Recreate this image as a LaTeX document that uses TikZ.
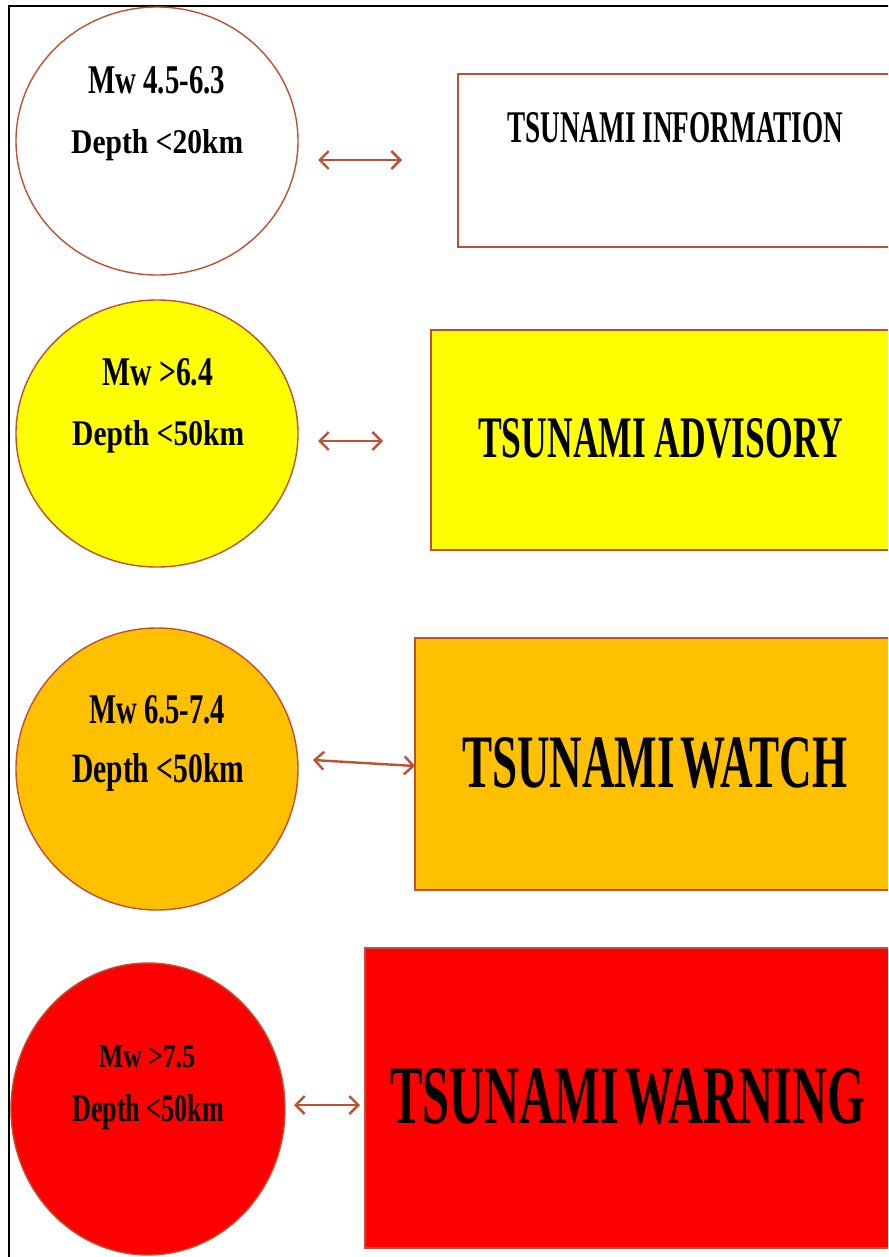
\documentclass[tikz,border=0pt]{standalone}
\usepackage{fontspec}
\setmainfont{Liberation Serif}
\usetikzlibrary{shapes.geometric,arrows.meta}
\definecolor{edgebrown}{RGB}{192,80,50}
\definecolor{advy}{RGB}{255,255,0}
\definecolor{watcho}{RGB}{255,192,0}
\definecolor{warnr}{RGB}{255,0,0}
\newcommand{\fitt}[3]{\resizebox{#1pt}{#2pt}{\bfseries #3}}
\begin{document}
\begin{tikzpicture}[x=1pt,y=-1pt,
  circ/.style={ellipse,draw=edgebrown,line width=1.4pt,inner sep=0pt},
  panel/.style={rectangle,draw=edgebrown,line width=1.4pt,inner sep=0pt},
  lbl/.style={anchor=base west,inner sep=0pt,text=black},
  dbl/.style={{Straight Barb[length=9pt,width=18pt,line width=2.4pt]}-{Straight Barb[length=9pt,width=18pt,line width=2.4pt]},draw=edgebrown,line width=2.4pt}]
\useasboundingbox (0,0) rectangle (888,1257);
\clip (0,0) rectangle (888,1257);
\fill[white] (0,0) rectangle (888,1257);
\coordinate (frA) at (895,6);
\coordinate (frB) at (9,6);
\coordinate (frC) at (9,1262);
\draw[black,line width=1.6pt] (frA) -- (frB) -- (frC);

% circles
\node[circ,fill=white,minimum width=282pt,minimum height=268pt] (c1) at (157,141) {};
\node[circ,fill=advy,minimum width=282pt,minimum height=267pt] (c2) at (157,433.5) {};
\node[circ,fill=watcho,minimum width=282pt,minimum height=282pt] (c3) at (157,769) {};
\node[circ,fill=warnr,minimum width=274pt,minimum height=292pt] (c4) at (148,1109) {};

% panels
\node[panel,fill=white,minimum width=437pt,minimum height=173pt] (p1) at (676.5,160.5) {};
\node[panel,fill=advy,minimum width=464pt,minimum height=220pt] (p2) at (663,440) {};
\node[panel,fill=watcho,minimum width=480pt,minimum height=252pt] (p3) at (655,764) {};
\node[panel,fill=warnr,minimum width=530pt,minimum height=300pt] (p4) at (630,1098) {};

% circle texts
\node[lbl] (t1a) at (88,94) {\fitt{137}{27}{Mw 4.5-6.3}};
\node[lbl] (t1b) at (71,154) {\fitt{172}{24}{Depth <20km}};
\node[lbl] (t2a) at (102,385) {\fitt{111}{27}{Mw >6.4}};
\node[lbl] (t2b) at (72,445) {\fitt{172}{25}{Depth <50km}};
\node[lbl] (t3a) at (89,723) {\fitt{136}{28}{Mw 6.5-7.4}};
\node[lbl] (t3b) at (72,782) {\fitt{172}{29}{Depth <50km}};
\node[lbl] (t4a) at (99,1067) {\fitt{96}{22}{Mw >7.5}};
\node[lbl] (t4b) at (72,1121) {\fitt{152}{27}{Depth <50km}};

% panel texts
\node[lbl] (b1) at (507,143) {\fitt{336}{30}{TSUNAMI INFORMATION}};
\node[lbl] (b2) at (478,457) {\fitt{365}{39}{TSUNAMI ADVISORY}};
\node[lbl] (b3) at (462,787) {\fitt{385}{50}{TSUNAMI\hspace{0.12em}WATCH}};
\node[lbl] (b4) at (390,1123) {\fitt{475}{55}{TSUNAMI\hspace{0.12em}WARNING}};

% arrows
\coordinate (a1s) at (318,160);
\coordinate (a1e) at (402,160);
\coordinate (a2s) at (318,441);
\coordinate (a2e) at (383,441);
\coordinate (a3s) at (313,760);
\coordinate (a3e) at (415,766);
\coordinate (a4s) at (294,1105);
\coordinate (a4e) at (360,1105);
\draw[dbl] (a1s) -- (a1e);
\draw[dbl] (a2s) -- (a2e);
\draw[dbl] (a3s) -- (a3e);
\draw[dbl] (a4s) -- (a4e);
\end{tikzpicture}
\end{document}
